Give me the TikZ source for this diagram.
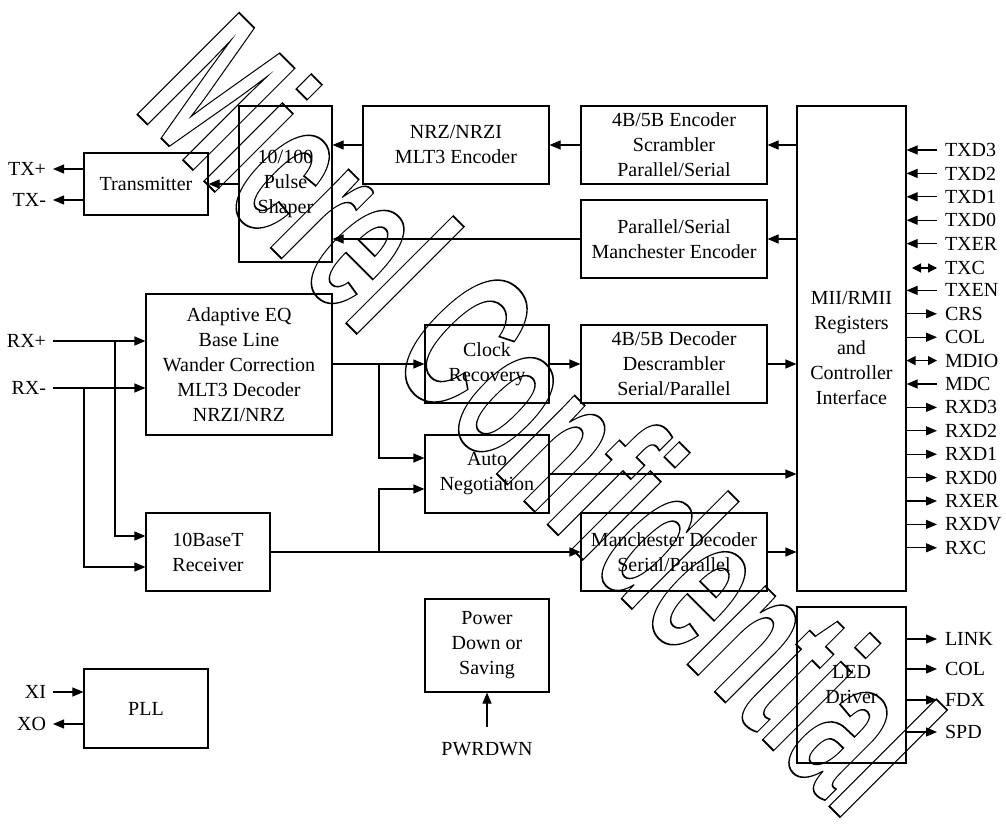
\documentclass[tikz,border=0pt]{standalone}
\usepackage{fontspec}
\setmainfont{Liberation Serif}
\newfontfamily\wmfont{Liberation Sans}
\usetikzlibrary{arrows.meta,calc}
\tikzset{
  box/.style={draw, line width=1.1bp, align=center, inner sep=0pt, font=\fontsize{20bp}{25bp}\selectfont},
  lab/.style={inner sep=0pt, font=\fontsize{20bp}{25bp}\selectfont},
  llab/.style={lab, anchor=east, outer xsep=7bp},
  rlab/.style={lab, anchor=west, outer xsep=8bp},
  arr/.style={line width=1.1bp, -{Triangle[length=11bp,width=9bp]}},
  darr/.style={line width=1.1bp, {Triangle[length=9bp,width=9bp]}-{Triangle[length=9bp,width=9bp]}},
}
\begin{document}
\begin{tikzpicture}[x=1bp, y=-1bp]
\path[fill=white] (0,0) rectangle (1006,827);
\useasboundingbox (0,0) rectangle (1006,827);

% watermark
\begin{scope}[shift={(132,109)}, rotate=-45, xscale=0.54]
\node[anchor=base west, inner sep=0pt, outer sep=0pt, transform shape,
      font=\wmfont\bfseries\fontsize{209bp}{209bp}\selectfont] (wm) at (0,0)
  {\special{pdf:literal direct 1 Tr 1.8 w}Micrel Confidential\special{pdf:literal direct 0 Tr}};
\end{scope}

% boxes
\node[box, minimum width=124bp, minimum height=62bp] (tx) at (146,184) {Transmitter};
\node[box, minimum width=93bp, minimum height=156bp] (ps) at (285.5,184) {10/100\\Pulse\\Shaper};
\node[box, minimum width=186bp, minimum height=78bp] (nrz) at (456,145) {NRZ/NRZI\\MLT3 Encoder};
\node[box, minimum width=186bp, minimum height=78bp] (enc) at (674,145) {4B/5B Encoder\\Scrambler\\Parallel/Serial};
\node[box, minimum width=186bp, minimum height=78bp] (menc) at (674,239) {Parallel/Serial\\Manchester Encoder};
\node[box, minimum width=109bp, minimum height=485bp] (mii) at (851.5,348.5) {MII/RMII\\Registers\\and\\Controller\\Interface};
\node[box, minimum width=186bp, minimum height=141bp] (aeq) at (239,364.5) {Adaptive EQ\\Base Line\\Wander Correction\\MLT3 Decoder\\NRZI/NRZ};
\node[box, minimum width=124bp, minimum height=78bp] (tbt) at (208,552) {10BaseT\\Receiver};
\node[box, minimum width=124bp, minimum height=78bp] (cr) at (487,364) {Clock\\Recovery};
\node[box, minimum width=186bp, minimum height=78bp] (dec) at (674,364) {4B/5B Decoder\\Descrambler\\Serial/Parallel};
\node[box, minimum width=124bp, minimum height=78bp] (an) at (487,474) {Auto\\Negotiation};
\node[box, minimum width=186bp, minimum height=78bp] (mdec) at (674,552) {Manchester Decoder\\Serial/Parallel};
\node[box, minimum width=124bp, minimum height=93bp] (pwr) at (487,645.5) {Power\\Down or\\Saving};
\node[box, minimum width=124bp, minimum height=79bp] (pll) at (146,708.5) {PLL};
\node[box, minimum width=109bp, minimum height=156bp] (led) at (851.5,685) {LED\\Driver};

% transmit path
\draw[arr] (ps.west) -- (tx.east);
\draw[arr] (nrz.west) -- (nrz.west -| ps.east);
\draw[arr] (enc.west) -- (nrz.east);
\draw[arr] (menc.west) -- (menc.west -| ps.east);
\draw[arr] (mii.west |- enc.east) -- (enc.east);
\draw[arr] (mii.west |- menc.east) -- (menc.east);

\node[llab] (txp) at (53,169) {TX+};
\node[llab] (txm) at (53,200) {TX-};
\draw[arr] (txp.east -| tx.west) -- (txp.east);
\draw[arr] (txm.east -| tx.west) -- (txm.east);

% receive path
\node[llab] (rxp) at (53,341) {RX+};
\node[llab] (rxm) at (53,388) {RX-};
\draw[arr] (rxp.east) -- (rxp.east -| aeq.west);
\draw[arr] (rxm.east) -- (rxm.east -| aeq.west);
\coordinate (j1) at (115,341);
\coordinate (j2) at (84,388);
\draw[arr] (j1) |- ($(tbt.west)+(0,-16)$);
\draw[arr] (j2) |- ($(tbt.west)+(0,15)$);

\draw[arr] (aeq.east |- cr.west) -- (cr.west);
\coordinate (j3) at (379,364);
\draw[arr] (j3) |- ($(an.west)+(0,-16)$);
\draw[arr] (tbt.east) -- (mdec.west);
\coordinate (j4) at (379,552);
\draw[arr] (j4) |- ($(an.west)+(0,15)$);

\draw[arr] (cr.east) -- (dec.west);
\draw[arr] (dec.east) -- (dec.east -| mii.west);
\draw[arr] (an.east) -- (an.east -| mii.west);
\draw[arr] (mdec.east) -- (mdec.east -| mii.west);

% PLL
\node[llab] (xi) at (53,692) {XI};
\node[llab] (xo) at (53,724) {XO};
\draw[arr] (xi.east) -- (xi.east -| pll.west);
\draw[arr] (xo.east -| pll.west) -- (xo.east);

% power down
\node[lab] (pwrdwn) at (487,749) {PWRDWN};
\coordinate (pwin) at (487,727);
\draw[arr] (pwin) -- (pwr.south);

% MII signals
\foreach \n/\t/\y in {txdc/TXD3/150, txdb/TXD2/173.4, txda/TXD1/196.8, txdz/TXD0/220.2, txer/TXER/243.6, txen/TXEN/290.4, mdc/MDC/384} {
  \node[rlab] (\n) at (937,\y) {\t};
  \draw[arr] (\n.west) -- (\n.west -| mii.east);
}
\foreach \n/\t/\y in {crs/CRS/313.8, col/COL/337.2, rxdc/RXD3/407.4, rxdb/RXD2/430.8, rxda/RXD1/454.2, rxdz/RXD0/477.6, rxer/RXER/501, rxdv/RXDV/524.4, rxc/RXC/547.8} {
  \node[rlab] (\n) at (937,\y) {\t};
  \draw[arr] (\n.west -| mii.east) -- (\n.west);
}
\node[rlab] (txc) at (937,268) {TXC};
\coordinate (txcl) at (912,268);
\draw[darr] (txcl) -- (txc.west);
\node[rlab] (mdio) at (937,360.6) {MDIO};
\draw[darr] (mdio.west -| mii.east) -- (mdio.west);

% LED outputs
\foreach \n/\t/\y in {link/LINK/639, lcol/COL/669, fdx/FDX/700, spd/SPD/732} {
  \node[rlab] (\n) at (937,\y) {\t};
  \draw[arr] (\n.west -| led.east) -- (\n.west);
}
\end{tikzpicture}
\end{document}
